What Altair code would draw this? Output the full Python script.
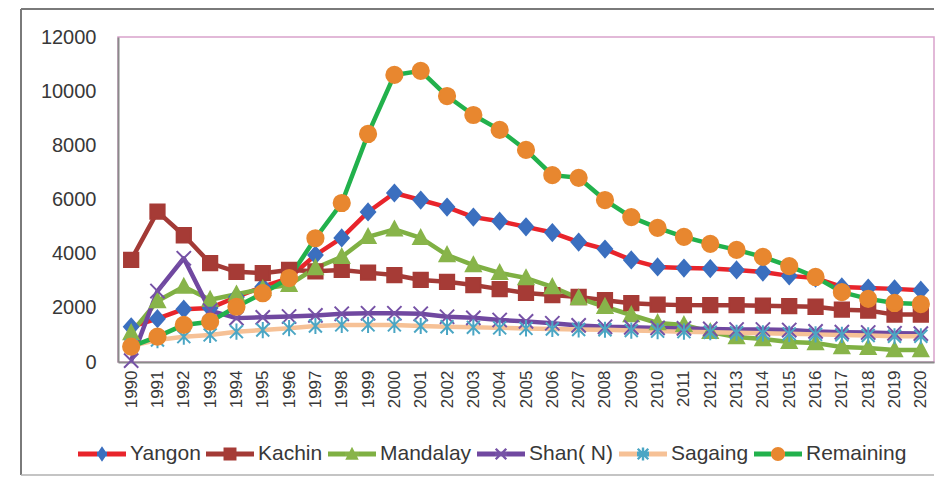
import json
import math
import altair as alt
import pandas as pd

years = ["1990", "1991", "1992", "1993", "1994", "1995", "1996", "1997", "1998", "1999",
         "2000", "2001", "2002", "2003", "2004", "2005", "2006", "2007", "2008", "2009",
         "2010", "2011", "2012", "2013", "2014", "2015", "2016", "2017", "2018", "2019", "2020"]

yangon = [1300, 1600, 1950, 1990, 2400, 2780, 3100, 3950, 4580, 5540, 6240, 5980, 5720, 5350, 5200, 4990,
          4780, 4430, 4170, 3770, 3510, 3470, 3450, 3400, 3320, 3180, 3100, 2770, 2730, 2700, 2650]
kachin = [3770, 5550, 4680, 3650, 3330, 3280, 3400, 3350, 3400, 3300, 3210, 3030, 2960, 2840, 2690, 2550,
          2470, 2400, 2280, 2170, 2120, 2100, 2100, 2100, 2080, 2060, 2040, 1930, 1900, 1750, 1750]
mandalay = [1070, 2250, 2780, 2300, 2500, 2700, 2850, 3470, 3880, 4620, 4900, 4580, 3950, 3580, 3290, 3100,
            2770, 2360, 2040, 1735, 1440, 1370, 1110, 920, 850, 740, 700, 550, 520, 440, 440]
shan = [50, 2620, 3830, 1900, 1620, 1650, 1680, 1720, 1780, 1800, 1800, 1780, 1670, 1630, 1550, 1500,
        1430, 1350, 1300, 1280, 1260, 1240, 1220, 1200, 1200, 1180, 1130, 1100, 1090, 1060, 1050]
sagaing = [600, 810, 935, 1000, 1120, 1180, 1250, 1330, 1370, 1370, 1370, 1330, 1300, 1280, 1260, 1240,
           1220, 1200, 1190, 1160, 1140, 1120, 1100, 1080, 1060, 1040, 1020, 1000, 980, 950, 950]
remaining = [570, 935, 1370, 1490, 2040, 2540, 3100, 4570, 5870, 8420, 10600, 10750, 9820, 9120, 8570, 7830,
             6900, 6800, 5980, 5350, 4950, 4620, 4360, 4140, 3880, 3540, 3140, 2580, 2330, 2180, 2140]

y_ticks = [0, 2000, 4000, 6000, 8000, 10000, 12000]

series_names = ["Yangon", "Kachin", "Mandalay", "Shan( N)", "Sagaing", "Remaining"]
series_values = [yangon, kachin, mandalay, shan, sagaing, remaining]

line_colors = ["#e8242b", "#a33a36", "#7fb043", "#7048a0", "#f6c196", "#22b14c"]
marker_colors = ["#3b6fbf", "#a63b36", "#88b44a", "#7652a6", "#4ba6c4", "#e8872f"]

# marker glyphs used on the plot (unit square -1..1)
marker_paths = [
    "M0,-0.25 L0.22,0 L0,0.25 L-0.22,0 Z",
    "M-0.22,-0.22 L0.22,-0.22 L0.22,0.22 L-0.22,0.22 Z",
    "M0,-0.24 L0.23,0.19 L-0.23,0.19 Z",
    "M-0.22,-0.22 L0.22,0.22 M-0.22,0.22 L0.22,-0.22",
    "M-0.2,-0.2 L0.2,0.2 M-0.2,0.2 L0.2,-0.2 M0,-0.25 L0,0.25",
    "M0.25,0 A0.25,0.25 0 1,1 -0.25,0 A0.25,0.25 0 1,1 0.25,0 Z",
]


# legend glyphs: a filled bar with the marker on it (all sub-paths clockwise)
def f(v):
    return f"{v:.3f}"


def diag_bar(x0, y0, x1, y1, t):
    dx, dy = x1 - x0, y1 - y0
    n = math.hypot(dx, dy)
    px, py = -dy / n * t, dx / n * t
    pts = [(x0 - px, y0 - py), (x1 - px, y1 - py), (x1 + px, y1 + py), (x0 + px, y0 + py)]
    (ax, ay), (bx, by), (cx, cy) = pts[0], pts[1], pts[2]
    if (bx - ax) * (cy - by) - (by - ay) * (cx - bx) < 0:
        pts = pts[::-1]
    return "M" + " L".join(f"{f(x)},{f(y)}" for x, y in pts) + " Z"


bar = "M-1,-0.1 L1,-0.1 L1,0.1 L-1,0.1 Z"
a, t = 0.22, 0.05
x_glyph = diag_bar(-a, -a, a, a, t) + " " + diag_bar(-a, a, a, -a, t)
ast_glyph = x_glyph + " " + diag_bar(0, -0.27, 0, 0.27, t)
legend_paths = [
    bar + " M0,-0.32 L0.22,0 L0,0.32 L-0.22,0 Z",
    bar + " M-0.27,-0.27 L0.27,-0.27 L0.27,0.27 L-0.27,0.27 Z",
    bar + " M0,-0.3 L0.28,0.24 L-0.28,0.24 Z",
    bar + " " + x_glyph,
    bar + " " + ast_glyph,
    bar + " M0.29,0 A0.29,0.29 0 1,1 -0.29,0 A0.29,0.29 0 1,1 0.29,0 Z",
]
legend_half = [0.22, 0.27, 0.28, 0.26, 0.26, 0.29]

legend_fills = []
for lc, mc, w in zip(line_colors, marker_colors, legend_half):
    lo, hi = (1 - w) / 2, (1 + w) / 2
    g = {
        "gradient": "linear", "x1": 0, "y1": 0, "x2": 1, "y2": 0,
        "stops": [{"offset": 0, "color": lc}, {"offset": lo, "color": lc},
                  {"offset": lo, "color": mc}, {"offset": hi, "color": mc},
                  {"offset": hi, "color": lc}, {"offset": 1, "color": lc}],
    }
    legend_fills.append(alt.ExprRef(expr=json.dumps(g)))

rows = []
for i, (name, vals) in enumerate(zip(series_names, series_values)):
    for y, v in zip(years, vals):
        rows.append({"series": name, "year": y, "value": v, "k": i})
df = pd.DataFrame(rows)

FONT = "Liberation Sans"
TXT = "#383838"

x_enc = alt.X("year:O", sort=years, scale=alt.Scale(type="point", padding=0.5),
              axis=alt.Axis(title=None, labelAngle=-90, labelFont=FONT, labelFontSize=17,
                            labelColor=TXT, ticks=False, grid=False, domainColor="#8a8a8a",
                            domainWidth=2, labelPadding=8))
y_enc = alt.Y("value:Q", scale=alt.Scale(domain=[0, 12000], nice=False),
              axis=alt.Axis(title=None, values=y_ticks, format="d",
                            labelFont=FONT, labelFontSize=20, labelColor=TXT, ticks=False,
                            grid=False, domainColor="#8a8a8a", domainWidth=2, labelPadding=22))

leg = alt.Legend(
    orient="none", legendX=-40, legendY=393, direction="horizontal", columns=6,
    title=None, symbolSize=2304, labelFont=FONT, labelFontSize=21, labelColor=TXT,
    labelOffset=4, columnPadding=5, padding=0, symbolStrokeWidth=0,
    symbolStrokeColor="transparent", symbolOpacity=1,
)

base = alt.Chart(df)

lines = base.mark_line(strokeWidth=4.5, strokeJoin="round").encode(
    x=x_enc, y=y_enc,
    stroke=alt.Stroke("series:N", scale=alt.Scale(domain=series_names, range=line_colors),
                      legend=None),
)

points = base.mark_point(filled=True, size=4200, strokeWidth=2, opacity=1).encode(
    x=x_enc, y=y_enc,
    fill=alt.Fill("series:N", scale=alt.Scale(domain=series_names, range=marker_colors),
                  legend=None),
    stroke=alt.Stroke("series:N", scale=alt.Scale(domain=series_names, range=marker_colors),
                      legend=None),
    shape=alt.Shape("series:N", scale=alt.Scale(domain=series_names, range=marker_paths),
                    legend=None),
    order=alt.Order("k:Q"),
)

# invisible layer that only carries the legend (line + marker glyphs)
legend_carrier = base.mark_point(filled=True, opacity=0, size=10).encode(
    x=x_enc, y=y_enc,
    fill=alt.Fill("series:N", scale=alt.Scale(domain=series_names, range=legend_fills),
                  legend=leg),
    shape=alt.Shape("series:N", scale=alt.Scale(domain=series_names, range=legend_paths),
                    legend=leg),
)

PLOT_W, PLOT_H = 816, 325

# outer frame of the figure (decoration)
frame_df = pd.DataFrame({"f": [0]})
FL, FT, FR, FB = -97, -28, PLOT_W, 438
frame_top = alt.Chart(frame_df).mark_rule(color="#7a7a7a", strokeWidth=2).encode(
    x=alt.value(FL), x2=alt.value(FR), y=alt.value(FT))
frame_left = alt.Chart(frame_df).mark_rule(color="#7a7a7a", strokeWidth=2).encode(
    x=alt.value(FL), y=alt.value(FT), y2=alt.value(FB))
frame_bottom = alt.Chart(frame_df).mark_rule(color="#b0b0b0", strokeWidth=1.5).encode(
    x=alt.value(FL), x2=alt.value(FR), y=alt.value(FB))

chart = alt.layer(frame_top, frame_left, frame_bottom, lines, points, legend_carrier).resolve_scale(
    stroke="independent", fill="independent", shape="independent"
).properties(
    width=PLOT_W, height=PLOT_H,
    padding={"left": 12, "top": 0, "right": 0, "bottom": 0},
    background="white",
).configure_view(stroke="#d9a2cb", strokeWidth=1.5)

chart.save("out.html", embed_options={"renderer": "svg", "actions": False})
